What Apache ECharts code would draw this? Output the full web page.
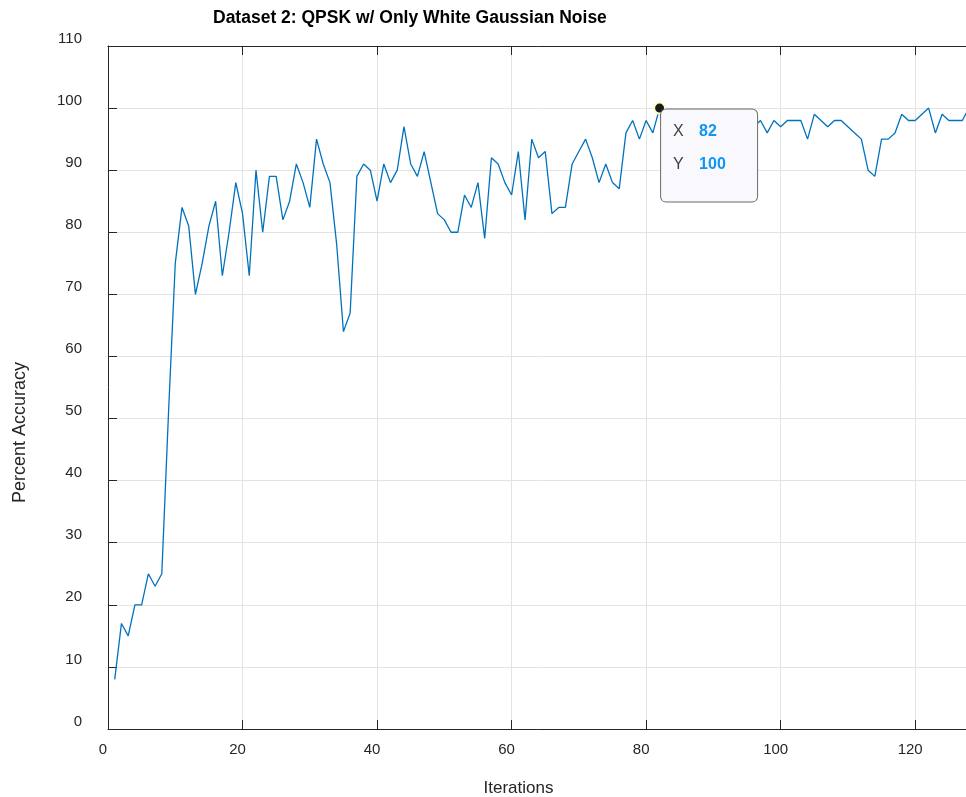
<!DOCTYPE html>
<html>
<head>
<meta charset="utf-8">
<script src="https://cdn.jsdelivr.net/npm/echarts@6/dist/echarts.min.js"></script>
<style>
  html, body { margin: 0; padding: 0; background: #fff; }
  #chart { width: 966px; height: 797px; }
</style>
</head>
<body>
<div id="chart"></div>
<script>
// iteration number of every point
const iterations = [
  1, 2, 3, 4, 5, 6, 7, 8, 9, 10, 11, 12, 13, 14, 15, 16, 17, 18, 19, 20,
  21, 22, 23, 24, 25, 26, 27, 28, 29, 30, 31, 32, 33, 34, 35, 36, 37, 38, 39, 40,
  41, 42, 43, 44, 45, 46, 47, 48, 49, 50, 51, 52, 53, 54, 55, 56, 57, 58, 59, 60,
  61, 62, 63, 64, 65, 66, 67, 68, 69, 70, 71, 72, 73, 74, 75, 76, 77, 78, 79, 80,
  81, 82, 83, 84, 85, 86, 87, 88, 89, 90, 91, 92, 93, 94, 95, 96, 97, 98, 99, 100,
  101, 102, 103, 104, 105, 106, 107, 108, 109, 110, 111, 112, 113, 114, 115, 116, 117, 118, 119, 120,
  121, 122, 123, 124, 125, 126, 127, 128
]

// percent accuracy (83-96 are hidden by the data tip, estimated)
const accuracy = [
  8, 17, 15, 20, 20, 25, 23, 25, 51, 75,
  84, 81, 70, 75, 81, 85, 73, 80, 88, 83,
  73, 90, 80, 89, 89, 82, 85, 91, 88, 84,
  95, 91, 88, 78, 64, 67, 89, 91, 90, 85,
  91, 88, 90, 97, 91, 89, 93, 88, 83, 82,
  80, 80, 86, 84, 88, 79, 92, 91, 88, 86,
  93, 82, 95, 92, 93, 83, 84, 84, 91, 93,
  95, 92, 88, 91, 88, 87, 96, 98, 95, 98,
  96, 100, 92, 96, 98, 97, 99, 96, 98, 97,
  99, 98, 96, 98, 99, 97, 98, 96, 98, 97,
  98, 98, 98, 95, 99, 98, 97, 98, 98, 97,
  96, 95, 90, 89, 95, 95, 96, 99, 98, 98,
  99, 100, 96, 99, 98, 98, 98, 100
]

const xTicks = [0, 20, 40, 60, 80, 100, 120]
const yTicks = [0, 10, 20, 30, 40, 50, 60, 70, 80, 90, 100, 110]

// point with the data tip
const tipIndex = 81

const axisColor = '#262626'
const chart = echarts.init(document.getElementById('chart'))

const option = {
  animation: false,
  title: {
    text: 'Dataset 2: QPSK w/ Only White Gaussian Noise',
    left: 208,
    top: 4,
    textStyle: { fontFamily: 'Liberation Sans', fontSize: 17.5, fontWeight: 'bold', color: '#000' }
  },
  grid: { left: 108, right: -3, top: 46, bottom: 68, outerBoundsMode: 'none', containLabel: false },
  xAxis: [{
    type: 'value',
    min: 0,
    max: 128,
    interval: 20,
    name: 'Iterations',
    nameLocation: 'middle',
    nameGap: 51,
    nameTextStyle: { fontFamily: 'Liberation Sans', fontSize: 17, color: axisColor, padding: [0, 40, 0, 0] },
    axisLine: { lineStyle: { color: axisColor, width: 1 } },
    axisTick: { inside: true, length: 9, lineStyle: { color: axisColor } },
    axisLabel: {
      margin: 13,
      fontFamily: 'Liberation Sans',
      fontSize: 15,
      color: axisColor,
      padding: [0, 10, 0, 0],
      formatter: v => xTicks.includes(v) ? String(v) : ''
    },
    splitLine: { show: true, lineStyle: { color: '#e3e3e3', width: 1 } }
  }, {
    type: 'value',
    position: 'top',
    min: 0,
    max: 128,
    interval: 20,
    axisLine: { lineStyle: { color: axisColor, width: 1 } },
    axisTick: { inside: true, length: 9, lineStyle: { color: axisColor } },
    axisLabel: { show: false },
    splitLine: { show: false }
  }],
  yAxis: {
    type: 'value',
    min: 0,
    max: 110,
    interval: 10,
    name: 'Percent Accuracy',
    nameLocation: 'middle',
    nameGap: 79,
    nameRotate: 90,
    nameTextStyle: { fontFamily: 'Liberation Sans', fontSize: 18, color: axisColor, padding: [0, 90, 0, 0] },
    axisLine: { show: true, lineStyle: { color: axisColor, width: 1 } },
    axisTick: { show: true, inside: true, length: 9, lineStyle: { color: axisColor } },
    axisLabel: {
      margin: 26,
      fontFamily: 'Liberation Sans',
      fontSize: 15,
      color: axisColor,
      verticalAlign: 'bottom',
      formatter: v => yTicks.includes(v) ? String(v) : ''
    },
    splitLine: { show: true, lineStyle: { color: '#e3e3e3', width: 1 } }
  },
  series: [{
    type: 'line',
    data: iterations.map((x, i) => [x, accuracy[i]]),
    showSymbol: false,
    lineStyle: { color: '#0072bd', width: 1.3 },
    itemStyle: { color: '#0072bd' },
    emphasis: { disabled: true },
    markPoint: {
      symbol: 'circle',
      symbolSize: 11,
      silent: true,
      itemStyle: { color: '#1a1a1a', borderColor: '#ffffc4', borderWidth: 2 },
      label: {
        show: true,
        position: [8, 8],
        align: 'left',
        verticalAlign: 'top',
        width: 74,
        padding: [6, 10, 20, 12],
        backgroundColor: '#f8f8fd',
        borderColor: '#6b6b6b',
        borderWidth: 1,
        borderRadius: 5,
        formatter: p => '{k|X}{v|' + p.data.coord[0] + '}\n{k|Y}{v|' + p.data.coord[1] + '}',
        rich: {
          k: { width: 26, lineHeight: 33, fontFamily: 'Liberation Sans', fontSize: 16, color: '#404040' },
          v: { lineHeight: 33, fontFamily: 'Liberation Sans', fontSize: 16, fontWeight: 'bold', color: '#0d96f2' }
        }
      },
      data: [{ coord: [iterations[tipIndex], accuracy[tipIndex]] }]
    }
  }]
}

chart.setOption(option)
</script>
</body>
</html>
